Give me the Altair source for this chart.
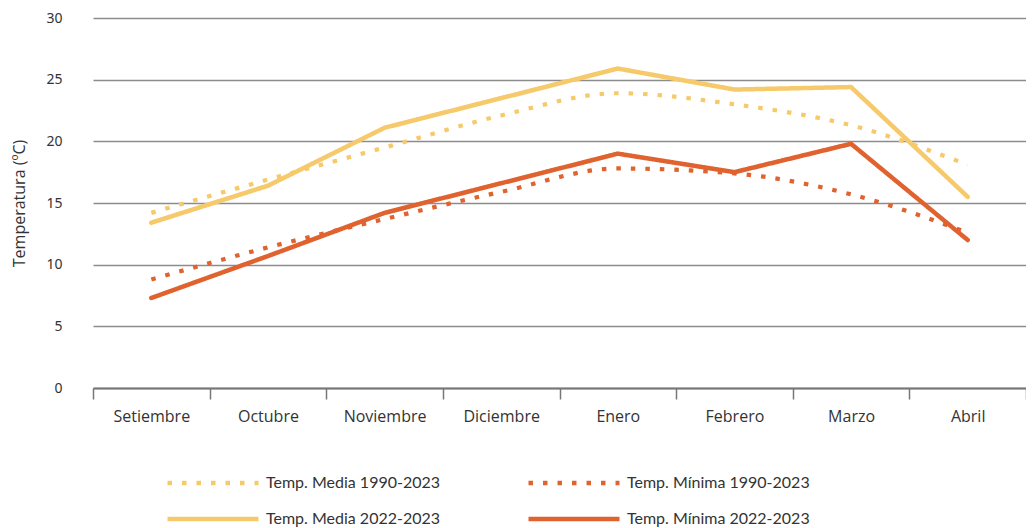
import altair as alt
import pandas as pd

months = ["Setiembre", "Octubre", "Noviembre", "Diciembre", "Enero", "Febrero", "Marzo", "Abril"]
media_hist = [14.2, 16.9, 19.5, 22.1, 23.9, 23.0, 21.3, 18.1]
minima_hist = [8.8, 11.4, 13.7, 15.9, 17.8, 17.4, 15.7, 12.6]
media_act = [13.4, 16.4, 21.1, 23.5, 25.9, 24.2, 24.4, 15.5]
minima_act = [7.3, 10.7, 14.2, 16.6, 19.0, 17.5, 19.8, 12.0]

series = ["Temp. Media 1990-2023", "Temp. Mínima 1990-2023",
          "Temp. Media 2022-2023", "Temp. Mínima 2022-2023"]
legend_order = [series[0], series[2], series[1], series[3]]
colors = ["#F6C96B", "#E0622F", "#F6C96B", "#E0622F"]
dashes = [[4.5, 10], [4.5, 10], [1, 0], [1, 0]]
y_ticks = [0, 5, 10, 15, 20, 25, 30]

rows = []
for name, vals in zip(series, [media_hist, minima_hist, media_act, minima_act]):
    for m, v in zip(months, vals):
        rows.append({"mes": m, "valor": v, "serie": name})
df = pd.DataFrame(rows)

legend = alt.Legend(
    title=None, orient="none", legendX=72, legendY=455, columns=2, values=legend_order,
    symbolType="stroke", symbolSize=8281, symbolStrokeWidth=4.5, clipHeight=20,
    labelFont="Lato", labelFontSize=16, labelColor="#333333",
    columnPadding=85, rowPadding=16, labelOffset=5, labelLimit=300,
)

base = alt.Chart(df).encode(
    x=alt.X("mes:N", sort=months,
            scale=alt.Scale(type="band", paddingInner=0, paddingOuter=0),
            axis=alt.Axis(title=None, tickBand="extent", tickSize=11, tickWidth=1.5,
                          tickColor="#777777", domainColor="#777777", domainWidth=2,
                          labelFont="Open Sans", labelFontSize=16, labelColor="#333333",
                          labelPadding=9, labelAngle=0, grid=False)),
    y=alt.Y("valor:Q", scale=alt.Scale(domain=[0, 30], nice=False, zero=True),
            axis=alt.Axis(values=y_ticks, title="Temperatura (ºC)", domain=False, ticks=False,
                          labelPadding=31, labelFont="Noto Sans", labelFontSize=14,
                          labelColor="#333333", gridColor="#8c8c8c", gridWidth=1.5,
                          titleFont="Open Sans", titleFontSize=16, titleFontWeight="normal",
                          titleColor="#333333", titlePadding=18)),
    color=alt.Color("serie:N", scale=alt.Scale(domain=series, range=colors), legend=legend),
    strokeDash=alt.StrokeDash("serie:N", scale=alt.Scale(domain=series, range=dashes), legend=legend),
)

hist = base.transform_filter(
    alt.FieldOneOfPredicate(field="serie", oneOf=series[:2])
).mark_line(interpolate="monotone", strokeWidth=4.2, strokeCap="butt")

act = base.transform_filter(
    alt.FieldOneOfPredicate(field="serie", oneOf=series[2:])
).mark_line(interpolate="linear", strokeWidth=4.5, strokeCap="round", strokeJoin="round")

chart = alt.layer(hist, act).properties(
    width=933, height=370,
    padding={"left": 85, "top": 10, "right": 0, "bottom": 140},
    autosize=alt.AutoSizeParams(type="none"),
).configure_view(stroke=None)

chart.save("out.html", embed_options={"renderer": "svg", "actions": False})
